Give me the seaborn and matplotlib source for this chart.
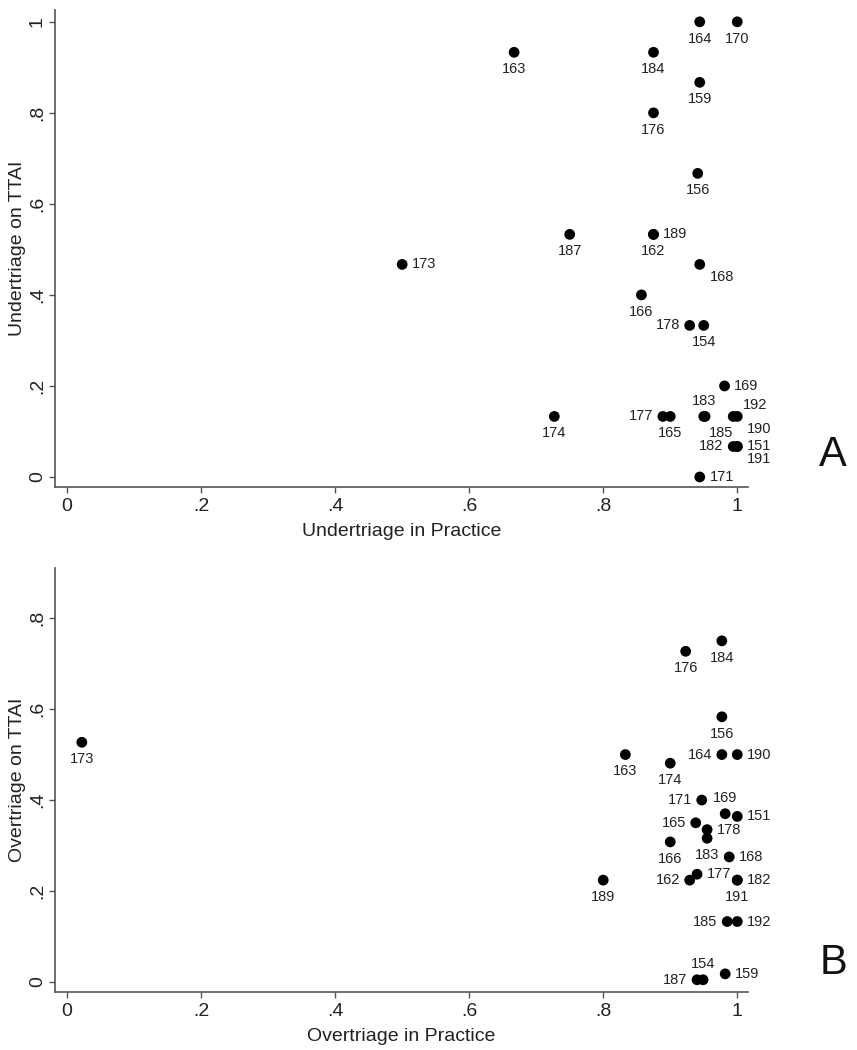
import numpy as np
import pandas as pd
import seaborn as sns
import matplotlib
matplotlib.use("Agg")
import matplotlib.pyplot as plt

# panel A: undertriage
a_id = ["164", "170", "163", "184", "159", "176", "156", "187", "189", "162",
        "173", "168", "166", "178", "154", "169", "174", "177", "165", "183",
        "185", "192", "190", "182", "151", "191", "171"]
a_x = [0.944, 1.0, 0.667, 0.875, 0.944, 0.875, 0.941, 0.75, 0.875, 0.875,
       0.5, 0.944, 0.857, 0.929, 0.95, 0.981, 0.727, 0.889, 0.9, 0.95,
       0.952, 0.994, 1.0, 0.994, 1.0, 1.0, 0.944]
a_y = [1.0, 1.0, 0.933, 0.933, 0.867, 0.8, 0.667, 0.533, 0.533, 0.533,
       0.467, 0.467, 0.4, 0.333, 0.333, 0.2, 0.133, 0.133, 0.133, 0.133,
       0.133, 0.133, 0.133, 0.067, 0.067, 0.067, 0.0]
a_pos = [6, 6, 6, 6, 6, 6, 6, 6, 3, 6,
         3, 4, 6, 9, 6, 3, 6, 9, 6, 12,
         5, 2, 4, 9, 3, 4, 3]

# panel B: overtriage
b_id = ["184", "176", "156", "163", "164", "190", "174", "171", "169", "151",
        "165", "178", "183", "166", "168", "162", "177", "182", "191", "185",
        "192", "187", "154", "159", "189", "173"]
b_x = [0.977, 0.923, 0.977, 0.833, 0.977, 1.0, 0.9, 0.947, 0.982, 1.0,
       0.938, 0.955, 0.955, 0.9, 0.988, 0.929, 0.94, 1.0, 1.0, 0.985,
       1.0, 0.94, 0.949, 0.982, 0.8, 0.022]
b_y = [0.75, 0.727, 0.583, 0.5, 0.5, 0.5, 0.481, 0.4, 0.37, 0.364,
       0.35, 0.335, 0.316, 0.308, 0.275, 0.224, 0.237, 0.224, 0.224, 0.133,
       0.133, 0.005, 0.005, 0.018, 0.224, 0.527]
b_pos = [6, 6, 6, 6, 9, 3, 6, 9, 12, 3,
         9, 3, 6, 6, 3, 9, 3, 3, 6, 9,
         3, 9, 12, 3, 6, 6]

tick_vals = [0, 0.2, 0.4, 0.6, 0.8, 1]
tick_text = ["0", ".2", ".4", ".6", ".8", "1"]

sns.set_style("ticks")
plt.rcParams['font.family'] = ['Liberation Sans', 'DejaVu Sans']

# clock position -> offset (points), alignment
offsets = {
    6: (0, -7, "center", "top"),
    12: (0, 6, "center", "bottom"),
    3: (7, 0, "left", "center"),
    9: (-7, 0, "right", "center"),
    4: (7, -4, "left", "top"),
    5: (3, -7, "left", "top"),
    2: (7, 3, "left", "bottom"),
}

fig = plt.figure(figsize=(8.57, 10.5), dpi=100)
axA = fig.add_axes([0.0642, 0.5362, 0.8086, 0.4543])
axB = fig.add_axes([0.0642, 0.0552, 0.8086, 0.4038])


def panel(ax, ids, xs, ys, pos, xlabel, ylabel, yticks, ylim, letter):
    df = pd.DataFrame({"x": xs, "y": ys, "id": ids})
    sns.scatterplot(data=df, x="x", y="y", ax=ax, color="black", s=60,
                    edgecolor="none", legend=False)
    for i, x, y, p in zip(ids, xs, ys, pos):
        dx, dy, ha, va = offsets[p]
        ax.annotate(i, (x, y), xytext=(dx, dy), textcoords="offset points",
                    ha=ha, va=va, fontsize=10.5, color="#222222")
    ax.set_xlim(-0.018, 1.016)
    ax.set_ylim(*ylim)
    ax.set_xticks(tick_vals)
    ax.set_xticklabels(tick_text)
    ax.set_yticks(tick_vals[:len(yticks)])
    ax.set_yticklabels(yticks, rotation=90, va="center")
    ax.set_xlabel(xlabel, fontsize=14, labelpad=6, color="#222222")
    ax.set_ylabel(ylabel, fontsize=14, labelpad=2, color="#222222")
    ax.tick_params(axis="both", labelsize=14, length=4.5, width=1,
                   color="#555555", labelcolor="#222222", direction="out")
    ax.tick_params(axis="y", pad=2)
    for s in ["top", "right"]:
        ax.spines[s].set_visible(False)
    for s in ["left", "bottom"]:
        ax.spines[s].set_color("#555555")
        ax.spines[s].set_linewidth(1.2)
    ax.text(1.123, 0.068, letter, transform=ax.transAxes, fontsize=30,
            ha="center", va="center", color="#111111")


panel(axA, a_id, a_x, a_y, a_pos, "Undertriage in Practice",
      "Undertriage on TTAI", tick_text, (-0.022, 1.026), "A")
panel(axB, b_id, b_x, b_y, b_pos, "Overtriage in Practice",
      "Overtriage on TTAI", tick_text[:5], (-0.022, 0.91), "B")

fig.savefig("out.png", dpi=100, facecolor="white")
